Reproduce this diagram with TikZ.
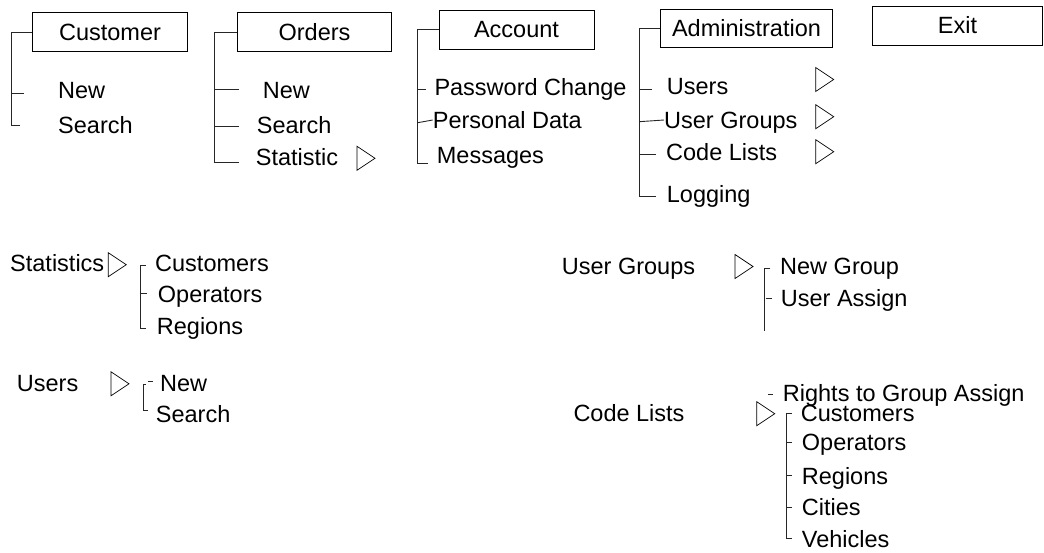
\documentclass[tikz,border=0pt]{standalone}
\usepackage{fontspec}
\setmainfont{Liberation Sans}
\begin{document}
\begin{tikzpicture}[x=1pt,y=-1pt,
  menubox/.style={draw,line width=0.9pt,inner sep=0pt,minimum height=39pt,
    font=\fontsize{23.5}{27}\selectfont,text height=16.8pt,text depth=0pt},
  item/.style={anchor=west,inner sep=0pt,font=\fontsize{23.5}{27}\selectfont,
    text height=16.8pt,text depth=0pt},
  tree/.style={line width=0.9pt,draw=black!85},
  sub/.pic={\draw[line width=0.7pt] (0,-12) -- (18,0) -- (0,12) -- cycle;}]
\useasboundingbox (0,0) rectangle (1044,552);

% top menu bar
\node[menubox,minimum width=154.6pt] (cust)  at (110,32.2)   {Customer};
\node[menubox,minimum width=154.4pt] (ord)   at (314.5,32.2) {Orders};
\node[menubox,minimum width=155pt]   (acct)  at (516.5,29.5) {Account};
\node[menubox,minimum width=171.6pt,minimum height=38.4pt] (adm) at (746.5,28.5) {Administration};
\node[menubox,minimum width=170pt]   (exit)  at (957.5,25.5) {Exit};

% Customer menu
\node[item] (cNew)    at (58,90)    {New};
\node[item] (cSearch) at (58,124.7) {Search};
\draw[tree] (cust.west) -- (11.7,32.2) -- (11.7,125.7) -- (20,125.7);
\draw[tree] (11.7,93.3) -- (24,93.3);

% Orders menu
\node[item] (oNew)    at (262.7,90)    {New};
\node[item] (oSearch) at (256.7,124.7) {Search};
\node[item] (oStat)   at (255.7,157)   {Statistic};
\draw[tree] (ord.west) -- (214.3,32.2) -- (214.3,162.3) -- (239,162.3);
\draw[tree] (214.3,89.3) -- (239,89.3);
\draw[tree] (214.3,126.7) -- (239,126.7);
\pic at (357,158.3) {sub};

% Account menu
\node[item] (aPwd)  at (434.3,87)  {Password Change};
\node[item] (aPers) at (432.7,120) {Personal Data};
\node[item] (aMsg)  at (436.7,155.3) {Messages};
\draw[tree] (acct.west) -- (417.7,29.5) -- (417.7,163.3) -- (428,163.3);
\draw[tree] (417.7,89.3) -- (426,89.3);
\draw[tree] (417.7,122.7) -- (aPers.west);

% Administration menu
\node[item] (dUsers) at (666.7,86)   {Users};
\node[item] (dUG)    at (664,120)    {User Groups};
\node[item] (dCL)    at (666,152.5)  {Code Lists};
\node[item] (dLog)   at (666.7,194)  {Logging};
\draw[tree] (adm.west) -- (639,28.5) -- (639,196) -- (656,196);
\draw[tree] (639,89.3) -- (651.7,89.3);
\draw[tree] (639,121.7) -- (dUG.west);
\draw[tree] (639,154.3) -- (656,154.3);
\pic at (815.7,79.5)  {sub};
\pic at (815.7,116.7) {sub};
\pic at (815.7,151.7) {sub};

% Statistics submenu
\node[item] (stat)  at (10,263)      {Statistics};
\node[item] (sCust) at (155,263)     {Customers};
\node[item] (sOper) at (157.7,293.7) {Operators};
\node[item] (sReg)  at (156.7,326.3) {Regions};
\pic at (108.3,264.7) {sub};
\draw[tree] (145.7,265) -- (140,265) -- (140,328.3) -- (146,328.3);
\draw[tree] (140,293) -- (147,293);

% Users submenu
\node[item] (users)   at (16.7,382.7) {Users};
\node[item] (uNew)    at (160,382.7)  {New};
\node[item] (uSearch) at (155.7,414)  {Search};
\pic at (111,383.8) {sub};
\draw[tree] (146,384.3) -- (143.3,384.3) -- (143.3,410.7) -- (148,410.7);
\draw[tree] (147.7,381.7) -- (152.7,381.7);

% User Groups submenu
\node[item] (ug)      at (561.7,265.8) {User Groups};
\node[item] (gNew)    at (780,265.8)   {New Group};
\node[item] (gAssign) at (780.7,297.8) {User Assign};
\pic at (735,266.5) {sub};
\draw[tree] (770,268.3) -- (764.3,268.3) -- (764.3,330.7);
\draw[tree] (765.7,298.3) -- (772.3,298.3);

% Code Lists submenu
\node[item] (cl)     at (573.3,413.3) {Code Lists};
\node[item] (rights) at (782.7,393.3) {Rights to Group Assign};
\node[item] (lCust)  at (800.7,413.3) {Customers};
\node[item] (lOper)  at (801.7,442.5) {Operators};
\node[item] (lReg)   at (801.7,475.8) {Regions};
\node[item] (lCit)   at (801.7,507.5) {Cities};
\node[item] (lVeh)   at (801.7,539.2) {Vehicles};
\pic at (756.7,413.7) {sub};
\draw[tree] (768.3,394) -- (773.3,394);
\draw[tree] (792,413.3) -- (786.7,413.3) -- (786.7,538.3) -- (792,538.3);
\draw[tree] (786.7,442.5) -- (792,442.5);
\draw[tree] (786.7,475.8) -- (792,475.8);
\draw[tree] (786.7,507.5) -- (792,507.5);
\end{tikzpicture}
\end{document}
